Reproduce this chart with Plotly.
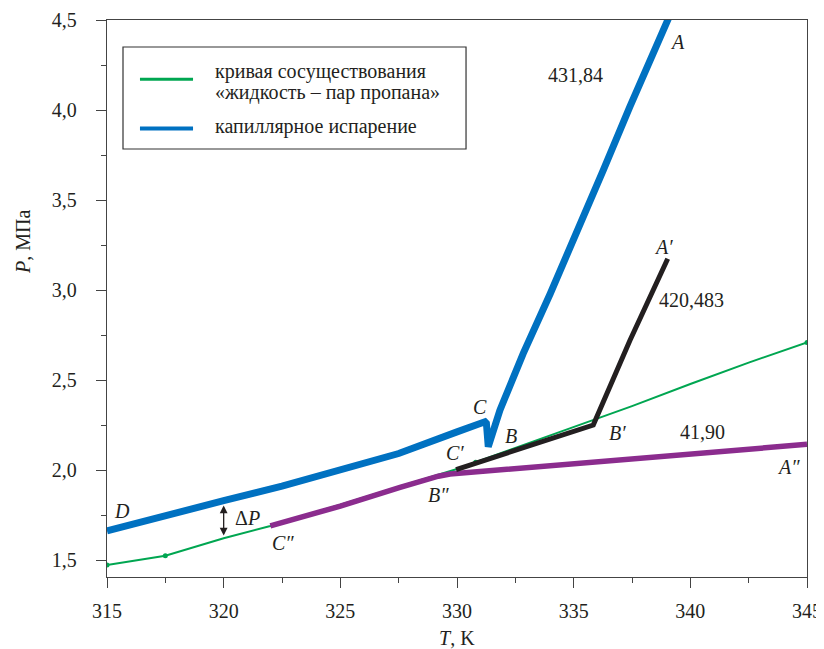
import plotly.graph_objects as go

# Coexistence curve (liquid - vapour of propane)
green_T = [315, 317.5, 320, 322, 325, 327.5, 330, 332.5, 335, 337.5, 340, 342.5, 345]
green_P = [1.472, 1.524, 1.621, 1.689, 1.808, 1.907, 2.006, 2.123, 2.24, 2.355, 2.478, 2.597, 2.709]
green_dot_T = [315, 317.5, 330.8, 345]
green_dot_P = [1.472, 1.524, 2.044, 2.709]

# Capillary evaporation, 431,84 (D - C - B - A)
blue_T = [315, 317.5, 320, 322.5, 325, 327.5, 330, 331.2, 331.26, 331.34, 331.84, 332.84, 334.0, 335.27, 336.27, 337.41, 338.41, 339.1]
blue_P = [1.662, 1.741, 1.83, 1.911, 2.006, 2.092, 2.212, 2.268, 2.26, 2.13, 2.333, 2.648, 2.981, 3.351, 3.666, 4.019, 4.315, 4.52]

# 420,483 (C' - B' - A')
black_T = [329.96, 333.0, 335.84, 337.41, 339.03]
black_P = [2.003, 2.13, 2.25, 2.72, 3.174]

# 41,90 (C'' - B'' - A'')
purple_T = [322.0, 323.27, 325.0, 327.56, 328.84, 329.2, 329.7, 331.84, 337.0, 341.0, 345.0]
purple_P = [1.69, 1.737, 1.80, 1.904, 1.954, 1.966, 1.978, 2.0, 2.059, 2.101, 2.143]

x_ticks = [315, 320, 325, 330, 335, 340, 345]
y_ticks = [1.5, 2.0, 2.5, 3.0, 3.5, 4.0, 4.5]

FONT = "Liberation Serif"
TXT = "#231f20"
AX = "#444444"

fig = go.Figure()
fig.add_trace(go.Scatter(x=green_T, y=green_P, mode="lines",
                         line=dict(color="#00a651", width=2), showlegend=False))
fig.add_trace(go.Scatter(x=green_dot_T, y=green_dot_P, mode="markers",
                         marker=dict(color="#00a651", size=5), showlegend=False))
fig.add_trace(go.Scatter(x=purple_T, y=purple_P, mode="lines",
                         line=dict(color="#8b2c8e", width=5.5), showlegend=False))
fig.add_trace(go.Scatter(x=black_T, y=black_P, mode="lines",
                         line=dict(color=TXT, width=5), showlegend=False))
fig.add_trace(go.Scatter(x=blue_T, y=blue_P, mode="lines",
                         line=dict(color="#0071c1", width=7), showlegend=False))

axis_common = dict(showline=True, linecolor=AX, linewidth=1.3, mirror=True,
                   ticks="outside", ticklen=10, tickwidth=1.3, tickcolor=AX,
                   showgrid=False, zeroline=False, automargin=False,
                   tickfont=dict(family=FONT, size=20, color=TXT))

fig.update_xaxes(range=[315, 345], tickvals=x_ticks, ticklabelstandoff=6,
                 minor=dict(ticks="outside", ticklen=5, tickwidth=1.3, tickcolor=AX,
                            tick0=315, dtick=2.5, showgrid=False),
                 **axis_common)
fig.update_yaxes(range=[1.406, 4.5], tickvals=y_ticks, tickformat=".1f", ticklabelstandoff=15,
                 minor=dict(ticks="outside", ticklen=5, tickwidth=1.3, tickcolor=AX,
                            tick0=1.5, dtick=0.25, showgrid=False),
                 **axis_common)

def ann(text, T, P, italic=True, size=20):
    t = f"<i>{text}</i>" if italic else text
    return dict(x=T, y=P, xref="x", yref="y", text=t, showarrow=False,
                font=dict(family=FONT, size=size, color=TXT),
                xanchor="center", yanchor="middle")

annotations = [
    ann("D", 315.64, 1.772),
    ann("C″", 322.54, 1.594),
    ann("C", 330.99, 2.35),
    ann("B", 332.31, 2.189),
    ann("C′", 329.91, 2.094),
    ann("B″", 329.19, 1.861),
    ann("B′", 336.86, 2.206),
    ann("41,90", 340.5, 2.211, italic=False),
    ann("A″", 344.19, 2.017),
    ann("A′", 338.83, 3.239),
    ann("420,483", 340.07, 2.944, italic=False),
    ann("431,84", 335.06, 4.194, italic=False),
    ann("A", 339.43, 4.378),
    dict(x=321.0, y=1.733, xref="x", yref="y", text="Δ<i>P</i>", showarrow=False,
         font=dict(family=FONT, size=20, color=TXT), xanchor="center", yanchor="middle"),
    # double-headed arrow for ΔP
    dict(x=320, y=1.636, ax=320, ay=1.812, xref="x", yref="y", axref="x", ayref="y",
         text="", showarrow=True, arrowhead=2, arrowsize=1.2, arrowwidth=1.3,
         arrowside="end+start", arrowcolor=TXT),
    # axis titles
    dict(x=-0.12, y=0.6014, xref="paper", yref="paper", text="<i>P</i>, МПа",
         textangle=-90, showarrow=False, font=dict(family=FONT, size=20, color=TXT),
         xanchor="center", yanchor="middle"),
    dict(x=0.5, y=-0.1095, xref="paper", yref="paper", text="<i>T</i>, K",
         showarrow=False, font=dict(family=FONT, size=20, color=TXT),
         xanchor="center", yanchor="middle"),
    # legend texts
    dict(x=0.1514, y=0.9084, xref="paper", yref="paper", text="кривая сосуществования",
         showarrow=False, font=dict(family=FONT, size=20, color=TXT),
         xanchor="left", yanchor="middle"),
    dict(x=0.1514, y=0.8707, xref="paper", yref="paper", text="«жидкость – пар пропана»",
         showarrow=False, font=dict(family=FONT, size=20, color=TXT),
         xanchor="left", yanchor="middle"),
    dict(x=0.1514, y=0.8079, xref="paper", yref="paper", text="капиллярное испарение",
         showarrow=False, font=dict(family=FONT, size=20, color=TXT),
         xanchor="left", yanchor="middle"),
]

shapes = [
    dict(type="rect", xref="paper", yref="paper", x0=0.02286, x1=0.5129, y0=0.7684, y1=0.9515,
         line=dict(color="#333333", width=1.2), fillcolor="white", layer="below"),
    dict(type="line", xref="paper", yref="paper", x0=0.0471, x1=0.1229, y0=0.8935, y1=0.8935,
         line=dict(color="#00a651", width=3)),
    dict(type="line", xref="paper", yref="paper", x0=0.0471, x1=0.1229, y0=0.8052, y1=0.8052,
         line=dict(color="#0071c1", width=4)),
]

# the page body adds an 8 px offset; figure sized so the plot area lands where the reference has it
fig.update_layout(width=816, height=641,
                  margin=dict(l=99, r=17, t=12, b=72, autoexpand=False),
                  paper_bgcolor="white", plot_bgcolor="white",
                  separators=", ", showlegend=False,
                  font=dict(family=FONT, size=20, color=TXT),
                  annotations=annotations, shapes=shapes)

fig.write_html("out.html")
